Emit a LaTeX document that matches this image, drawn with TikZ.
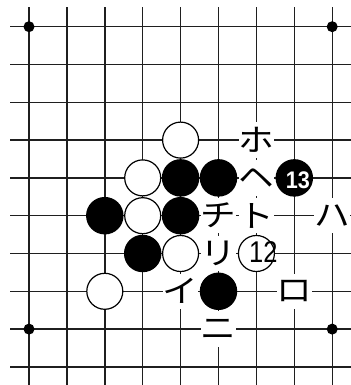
\documentclass[tikz,border=0pt]{standalone}
\usepackage{fontspec}
\newfontfamily\jpfont[FakeStretch=1.15]{Noto Sans CJK JP}
\newfontfamily\numfont[FakeStretch=0.85]{Liberation Sans}
\newfontfamily\numboldfont[FakeStretch=0.9]{Liberation Sans Bold}
\newcommand\lblfont{\jpfont\fontsize{31bp}{31bp}\selectfont}
\newcommand\twelvefont{\numfont\fontsize{30bp}{30bp}\selectfont}
\newcommand\thirteenfont{\numboldfont\fontsize{24bp}{24bp}\selectfont}
\begin{document}
\begin{tikzpicture}[x=37.9bp,y=-37.8bp,
  gridline/.style={line width=1.4bp, black!88},
  wstone/.style={circle, draw=black, fill=white, line width=1.2bp, minimum size=36bp, inner sep=0pt},
  bstone/.style={circle, fill=black, minimum size=37.5bp, inner sep=0pt},
  hoshi/.style={circle, fill=black, minimum size=11bp, inner sep=0pt},
  lblbg/.style={fill=white, minimum size=35.5bp, inner sep=0pt},
  lbl/.style={inner sep=0pt},
]
\useasboundingbox (-0.7652,-0.7063) rectangle (8.496,9.479);
% grid
\foreach \j in {0,...,9} \draw[gridline] (-0.5,\j) -- (8.5,\j);
\foreach \i in {0,...,8} \draw[gridline] (\i,-0.52) -- (\i,9.5);
% star points
\node[hoshi] (h1) at (0,0) {};
\node[hoshi] (h2) at (8,0) {};
\node[hoshi] (h3) at (0,8) {};
\node[hoshi] (h4) at (8,8) {};
% label backgrounds
\foreach \p/\n in {{6,3}/bho,{6,4}/bhe,{5,5}/bchi,{6,5}/bto,{8,5}/bha,{5,6}/bri,{4,7}/bi,{7,7}/bro,{5,8}/bni}
  \node[lblbg] (\n) at (\p) {};
% stones
\node[wstone] (w1) at (4,3) {};
\node[wstone] (w2) at (3,4) {};
\node[bstone] (b1) at (4,4) {};
\node[bstone] (b2) at (5,4) {};
\node[bstone] (b13) at (7,4) {};
\node[bstone] (b3) at (2,5) {};
\node[wstone] (w3) at (3,5) {};
\node[bstone] (b4) at (4,5) {};
\node[bstone] (b5) at (3,6) {};
\node[wstone] (w4) at (4,6) {};
\node[wstone] (w12) at (6,6) {};
\node[wstone] (w5) at (2,7) {};
\node[bstone] (b6) at (5,7) {};
% stone numbers
\node[inner sep=0pt, text=white, xshift=3.5bp, yshift=-2.5bp] (t13) at (b13) {\thirteenfont 13};
\node[inner sep=0pt, xshift=7bp, yshift=1.5bp] (t12) at (w12) {\twelvefont 12};
% labels
\node[lbl] (lho) at (bho) {\lblfont ホ};
\node[lbl] (lhe) at (bhe) {\lblfont ヘ};
\node[lbl] (lchi) at (bchi) {\lblfont チ};
\node[lbl] (lto) at (bto) {\lblfont ト};
\node[lbl] (lha) at (bha) {\lblfont ハ};
\node[lbl] (lri) at (bri) {\lblfont リ};
\node[lbl] (li) at (bi) {\lblfont イ};
\node[lbl] (lro) at (bro) {\lblfont ロ};
\node[lbl] (lni) at (bni) {\lblfont ニ};
\end{tikzpicture}
\end{document}
